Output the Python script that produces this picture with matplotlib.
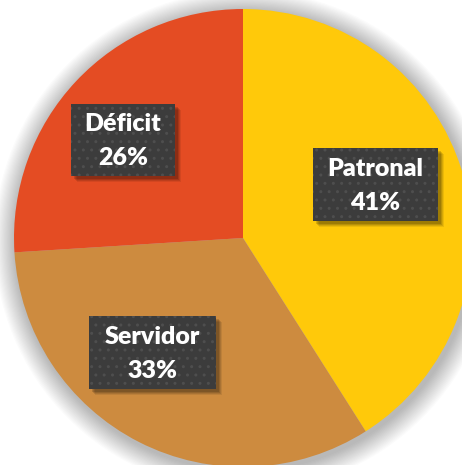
import matplotlib
matplotlib.use("Agg")
import matplotlib.pyplot as plt
from matplotlib.patches import Rectangle, Circle
import numpy as np

categories = ["Patronal", "Servidor", "Déficit"]
values = [41, 33, 26]
colors = ["#FFC90A", "#CD8B3F", "#E44C23"]

W, H = 462, 465
fig = plt.figure(figsize=(W / 100, H / 100), dpi=100)
fig.patch.set_facecolor("white")
ax = fig.add_axes([0, 0, 1, 1])
ax.set_xlim(0, W)
ax.set_ylim(0, H)
ax.set_aspect("equal")
ax.axis("off")

cx, cy, R = 243, H - 238, 229

# soft shadow around the pie
for i in range(18, 0, -1):
    ax.add_patch(Circle((cx + 2, cy - 3), R + i * 1.2, color="#000000",
                        alpha=0.015, lw=0, zorder=0))

wedges, _ = ax.pie(values, colors=colors, startangle=90, counterclock=False,
                   center=(cx, cy), radius=R, frame=True,
                   wedgeprops=dict(linewidth=0))
ax.set_xlim(0, W)
ax.set_ylim(0, H)
ax.axis("off")

FONT = ["Lato", "DejaVu Sans"]
# label boxes (layout: center x, center y in pixels from top, width, height)
boxes = [(375.5, 184.5, 125, 73), (152.5, 352.5, 127, 73), (123, 140, 104, 72)]
for (bx, by, bw, bh), name, v in zip(boxes, categories, values):
    y = H - by
    # drop shadow
    for k, a in [(6, 0.08), (5, 0.10), (4, 0.12), (3, 0.15)]:
        ax.add_patch(Rectangle((bx - bw / 2 + k, y - bh / 2 - k), bw, bh,
                               facecolor="#000000", alpha=a, lw=0, zorder=3))
    ax.add_patch(Rectangle((bx - bw / 2, y - bh / 2), bw, bh,
                           facecolor="#3C3C3C", edgecolor="#4E4E4E",
                           hatch="..", lw=0, zorder=4))
    ax.text(bx, y + 16, name, ha="center", va="center", color="white",
            fontsize=18, fontweight="heavy", family=FONT, zorder=5)
    ax.text(bx, y - 18, f"{v}%", ha="center", va="center", color="white",
            fontsize=18, fontweight="heavy", family=FONT, zorder=5)

fig.savefig("out.png", dpi=100, facecolor="white")
